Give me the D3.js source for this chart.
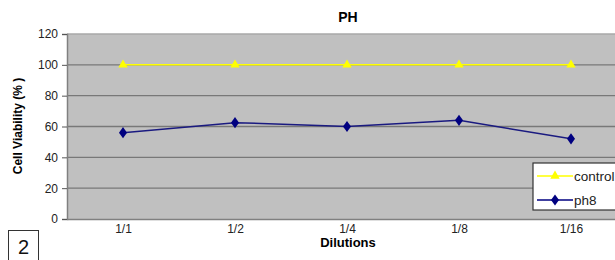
<!DOCTYPE html>
<html><head><meta charset="utf-8">
<script src="https://cdn.jsdelivr.net/npm/d3@7"></script>
<style>body{margin:0;background:#fff}svg{display:block}text{font-family:"Liberation Sans",Arial,sans-serif}</style>
</head><body><svg id="c" width="615" height="260"></svg>
<script>
const categories = ["1/1","1/2","1/4","1/8","1/16"];
const controlValues = [100,100,100,100,100];
const ph8Values = [56,62.5,60,64,52];
const yTicks = [0,20,40,60,80,100,120];
const seriesNames = ["control","ph8"];

const svg = d3.select("#c");
const L = 67, R = 627, T = 34, B = 219;
const x = d3.scalePoint().domain(categories).range([L, R]).padding(0.5);
const y = d3.scaleLinear().domain([0,120]).range([B, T]);

svg.append("rect").attr("x",L).attr("y",T).attr("width",R-L).attr("height",B-T).attr("fill","#c0c0c0");
svg.append("g").selectAll("line").data(yTicks.filter(d=>d>0)).join("line")
  .attr("x1",L).attr("x2",R).attr("y1",d=>y(d)).attr("y2",d=>y(d))
  .attr("stroke",d=>d===120?"#a8a8a8":"#787878").attr("stroke-width",1.4);
const ya = svg.append("g").attr("transform",`translate(${L},0)`)
  .call(d3.axisLeft(y).tickValues(yTicks).tickSize(5).tickPadding(4));
ya.select(".domain").attr("stroke","#808080").attr("stroke-width",1.5);
ya.selectAll(".tick line").attr("stroke","#555");
ya.selectAll("text").attr("font-size",12).attr("fill","#222");
const xa = svg.append("g").attr("transform",`translate(0,${B})`)
  .call(d3.axisBottom(x).tickSize(0).tickPadding(5));
xa.select(".domain").attr("stroke","#808080").attr("stroke-width",1.5);
xa.selectAll("text").attr("font-size",12).attr("fill","#222");

const line = d3.line().x((d,i)=>x(categories[i])).y(d=>y(d));
svg.append("path").datum(controlValues).attr("d",line).attr("fill","none").attr("stroke","#ffff00").attr("stroke-width",1.5);
const tri = d3.symbol().type(d3.symbolTriangle).size(38);
const dia = d3.symbol().type(d3.symbolDiamond).size(36);
svg.append("g").selectAll("path").data(controlValues).join("path")
  .attr("d",tri).attr("fill","#ffff00")
  .attr("transform",(d,i)=>`translate(${x(categories[i])},${y(d)})`);
svg.append("path").datum(ph8Values).attr("d",line).attr("fill","none").attr("stroke","#1a1a80").attr("stroke-width",1.5);
svg.append("g").selectAll("path").data(ph8Values).join("path")
  .attr("d",dia).attr("fill","#000080")
  .attr("transform",(d,i)=>`translate(${x(categories[i])},${y(d)}) scale(1.25,1)`);

svg.append("text").attr("x",348).attr("y",22).attr("text-anchor","middle").attr("font-size",14).attr("font-weight","bold").text("PH");
svg.append("text").attr("x",348).attr("y",247).attr("text-anchor","middle").attr("font-size",13).attr("font-weight","bold").text("Dilutions");
svg.append("text").attr("transform","translate(22,126) rotate(-90)").attr("text-anchor","middle").attr("font-size",12).attr("font-weight","bold").text("Cell Viability (% )");

const lg = svg.append("g");
lg.append("rect").attr("x",533).attr("y",163).attr("width",100).attr("height",47).attr("fill","#fff").attr("stroke","#333").attr("stroke-width",1.2);
const cols = ["#ffff00","#000080"], syms=[tri,dia];
seriesNames.forEach((n,i)=>{
  const yy = 176 + i*24;
  lg.append("line").attr("x1",537).attr("x2",573).attr("y1",yy).attr("y2",yy).attr("stroke",cols[i]).attr("stroke-width",1.5);
  lg.append("path").attr("d",syms[i]).attr("fill",cols[i]).attr("transform",`translate(555,${yy})${i?" scale(1.25,1)":""}`);
  lg.append("text").attr("x",574).attr("y",yy+4.5).attr("font-size",13.5).attr("fill","#222").text(n);
});

svg.append("rect").attr("x",8.5).attr("y",230.5).attr("width",30).attr("height",30).attr("fill","#fff").attr("stroke","#333");
svg.append("text").attr("x",23.5).attr("y",254).attr("text-anchor","middle").attr("font-size",20).attr("fill","#111").text("2");
</script></body></html>
